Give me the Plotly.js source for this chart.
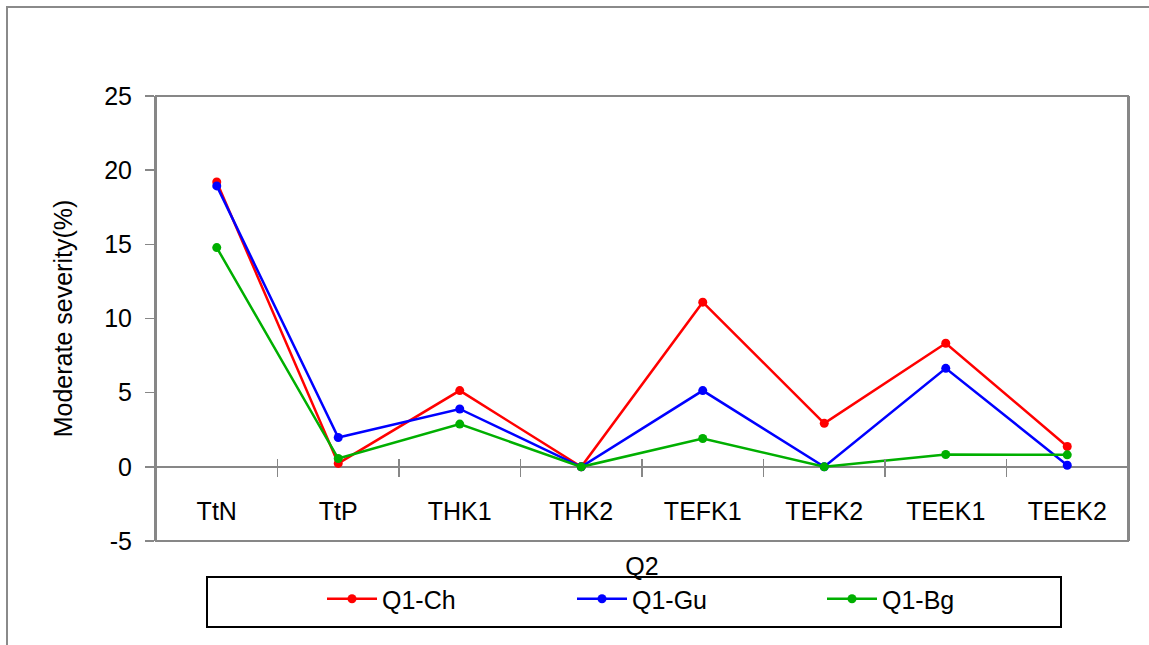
<!DOCTYPE html>
<html>
<head>
<meta charset="utf-8">
<script src="https://cdn.plot.ly/plotly-3.0.1.min.js"></script>
<style>
  html, body { margin: 0; padding: 0; background: #fff; }
  #wrap { position: relative; width: 1149px; height: 645px; overflow: hidden; }
  #chart { position: absolute; left: 0; top: 0; width: 1149px; height: 645px; }
  #frame { position: absolute; left: 6px; top: 6px; width: 1200px; height: 700px;
           border-left: 2px solid #8a8a8a; border-top: 2px solid #8a8a8a; pointer-events: none; }
</style>
</head>
<body>
<div id="wrap">
  <div id="chart"></div>
  <div id="frame"></div>
</div>
<script>
// ---- data ----
const categories = ["TtN", "TtP", "THK1", "THK2", "TEFK1", "TEFK2", "TEEK1", "TEEK2"];
const seriesNames = ["Q1-Ch", "Q1-Gu", "Q1-Bg"];
const q1Ch = [19.2, 0.23, 5.14, 0.0, 11.1, 2.93, 8.33, 1.37];
const q1Gu = [18.94, 1.98, 3.9, 0.0, 5.14, 0.0, 6.64, 0.11];
const q1Bg = [14.78, 0.56, 2.88, 0.0, 1.91, 0.0, 0.83, 0.81];
const yTicks = [-5, 0, 5, 10, 15, 20, 25];
const yTickLabels = ["-5", "0", "5", "10", "15", "20", "25"];
const xTitle = "Q2";
const yTitle = "Moderate severity(%)";

// ---- style ----
const colors = ["#FF0000", "#0000FF", "#00AF00"];
const fam = "'Liberation Sans Narrow', 'Arial Narrow', 'Liberation Sans', Arial, sans-serif";
const axisGray = "#878787";
const yMin = -5, yMax = 25;
const plotH = 445;
const zeroFrac = (0 - yMin) / (yMax - yMin);
const nCat = categories.length;

const traces = [q1Ch, q1Gu, q1Bg].map((vals, i) => ({
  type: "scatter",
  mode: "lines+markers",
  name: seriesNames[i],
  x: categories,
  y: vals,
  line: { color: colors[i], width: 2.5 },
  marker: { color: colors[i], size: 9 },
  cliponaxis: false
}));

const layout = {
  width: 1149,
  height: 645,
  paper_bgcolor: "rgba(0,0,0,0)",
  plot_bgcolor: "#fff",
  margin: { l: 156, r: 21, t: 96, b: 104, pad: 0 },
  showlegend: true,
  font: { family: fam, color: "#000", size: 25 },
  xaxis: {
    type: "category",
    range: [-0.5, nCat - 0.5],
    anchor: "free",
    position: zeroFrac + 9 / plotH,
    showline: false,
    ticks: "outside",
    tickson: "boundaries",
    ticklen: 18,
    tickwidth: 1.5,
    tickcolor: axisGray,
    ticklabelstandoff: 36,
    tickfont: { family: fam, size: 25, color: "#000" },
    showgrid: false,
    zeroline: false,
    automargin: false,
    title: { text: xTitle, font: { family: fam, size: 25, color: "#000" }, standoff: 33 }
  },
  yaxis: {
    range: [yMin, yMax],
    tickmode: "array",
    tickvals: yTicks,
    ticktext: yTickLabels,
    ticks: "outside",
    ticklen: 9,
    tickwidth: 1.5,
    tickcolor: axisGray,
    showline: true,
    mirror: true,
    linecolor: axisGray,
    linewidth: 2,
    showgrid: false,
    zeroline: true,
    zerolinecolor: axisGray,
    zerolinewidth: 2,
    automargin: false,
    ticklabelstandoff: 8,
    tickfont: { family: fam, size: 25, color: "#000" },
    title: { text: yTitle, font: { family: fam, size: 25, color: "#000" }, standoff: 24 }
  },
  legend: {
    orientation: "h",
    x: (322 - 156) / 972,
    xanchor: "left",
    y: (541 - 576) / plotH,
    yanchor: "top",
    bgcolor: "rgba(0,0,0,0)",
    borderwidth: 0,
    itemwidth: 50,
    entrywidth: 185,
    entrywidthmode: "pixels",
    font: { family: fam, size: 25, color: "#000" }
  },
  shapes: [
    {
      type: "rect", xref: "paper", yref: "paper",
      x0: 0, x1: 1, y0: 0, y1: 1,
      line: { color: axisGray, width: 2 },
      fillcolor: "rgba(0,0,0,0)", layer: "below"
    },
    {
      type: "rect", xref: "paper", yref: "paper",
      x0: (207 - 156) / 972, x1: (1061 - 156) / 972,
      y0: (541 - 627) / plotH, y1: (541 - 577) / plotH,
      line: { color: "#000", width: 2 },
      fillcolor: "rgba(0,0,0,0)"
    }
  ]
};

Plotly.newPlot("chart", traces, layout, { displayModeBar: false, staticPlot: true });
</script>
</body>
</html>
